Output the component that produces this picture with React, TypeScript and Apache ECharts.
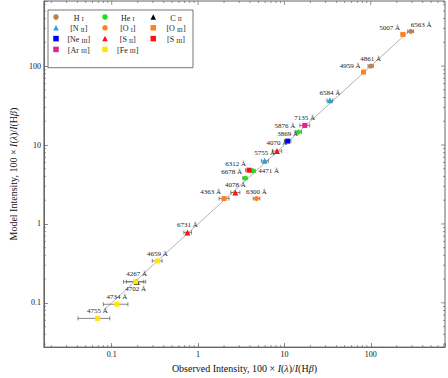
import React, { useEffect, useRef } from "react";
import * as echarts from "echarts";

const SERIF = "'Liberation Serif', 'Times New Roman', serif";

// ---- data ----
const ionNames = ["H I", "He I", "C II", "[N II]", "[O I]", "[O III]", "[Ne III]", "[S II]", "[S III]", "[Ar III]", "[Fe III]"];
const wavelengths = ["6563", "5007", "4861", "4959", "6584", "7135", "5876", "3869", "4070", "5755", "6312", "4471", "6678", "4363", "4078", "6300", "6731", "4659", "4267", "4702", "4734", "4755"];
const lineIon = ["H I", "[O III]", "H I", "[O III]", "[N II]", "[Ar III]", "He I", "[Ne III]", "[S II]", "[N II]", "[S III]", "He I", "He I", "[O III]", "[S II]", "[O I]", "[S II]", "[Fe III]", "C II", "[Fe III]", "[Fe III]", "[Fe III]"];
const observed = [290, 236, 100, 82.5, 33.6, 17.2, 14.5, 10.9, 8.2, 5.9, 3.9, 4.3, 3.5, 2.0, 2.7, 4.75, 0.755, 0.339, 0.195, 0.19, 0.115, 0.0685];
const model = [275, 252, 100, 84, 36.8, 17.7, 14.6, 11.2, 8.4, 6.3, 4.8, 4.7, 3.8, 2.1, 2.5, 2.1, 0.78, 0.34, 0.185, 0.185, 0.096, 0.0635];
const obsLow = [268, 225, 93, 79, 31.1, 15.1, 13.3, 10.0, 7.3, 5.4, 3.55, 4.0, 3.3, 1.75, 2.4, 4.35, 0.685, 0.295, 0.137, 0.148, 0.08, 0.0407];
const obsHigh = [313, 247, 107, 86.5, 36.3, 19.6, 15.8, 11.9, 9.3, 6.5, 4.3, 4.6, 3.7, 2.28, 3.05, 5.2, 0.838, 0.383, 0.248, 0.235, 0.154, 0.095];
const oneToOneLine = [0.08, 290];
const X_MIN = 0.0164;
const X_MAX = 724;
const Y_MIN = 0.0275;
const Y_MAX = 668;

// ---- styles ----
const ionColors = ["#c0804a", "#22dd22", "#000000", "#21a3e3", "#ff8020", "#ff8020", "#0000ff", "#ff1010", "#ff1010", "#e8208e", "#ffe600"];
const ionSymbols = ["circle", "circle", "triangle", "triangle", "circle", "rect", "rect", "triangle", "rect", "rect", "rect"];
const ionSizes = [5, 5, 6, 6, 5, 5, 5, 6, 5, 5, 5];
const labelPlacement = ["aboveRight", "aboveLeft", "above", "aboveLeft", "above", "above", "aboveLeft", "above", "above", "above", "aboveLeft", "right", "aboveLeft", "aboveLeft", "above", "above", "above", "above", "above", "below", "above", "above"];
const legendCols = [
  ["H I", "[N II]", "[Ne III]", "[Ar III]"],
  ["He I", "[O I]", "[S II]", "[Fe III]"],
  ["C II", "[O III]", "[S III]"],
];
const legendLeft = [53.25, 102.25, 150.5];
const AXIS_COLOR = "#666";

function labelFor(kind: string, s: number) {
  switch (kind) {
    case "aboveLeft":
      return { position: [s / 2 - 3, -0.5], align: "right", verticalAlign: "bottom" };
    case "aboveRight":
      return { position: [s / 2, -0.5], align: "left", verticalAlign: "bottom" };
    case "right":
      return { position: "right", distance: 3 };
    case "below":
      return { position: "bottom", distance: 1 };
    default:
      return { position: "top", distance: 1 };
  }
}

function legendFmt(name: string) {
  const m = name.match(/^(\[?)(\S+) ([IV]+)(\]?)$/);
  if (!m) return `{n|${name}}`;
  return `{n|${m[1]}${m[2]} }{s|${m[3]}}` + (m[4] ? `{n|${m[4]}}` : "");
}

function isPow10(v: number) {
  const l = Math.log10(v);
  return Math.abs(l - Math.round(l)) < 1e-6;
}

function buildOption() {
  const scatterSeries = ionNames.map((ion, k) => ({
    type: "scatter",
    name: ion,
    symbol: ionSymbols[k],
    symbolSize: ionSizes[k],
    itemStyle: { color: ionColors[k], opacity: 1 },
    z: 5,
    silent: true,
    label: { show: true, formatter: "{b}", fontFamily: SERIF, fontSize: 7, color: "#222" },
    data: wavelengths
      .map((w, i) => ({ w, i }))
      .filter((d) => lineIon[d.i] === ion)
      .map(({ w, i }) => ({
        name: `${w} Å`,
        value: [observed[i], model[i]],
        label: labelFor(labelPlacement[i], ionSizes[k]),
      })),
  }));

  // minor ticks (2..9 per decade) on all sides, plus mirrored major ticks on top/right
  const tickData: number[][] = [];
  for (let e = -3; e <= 3; e++) {
    for (let m = 1; m <= 9; m++) {
      const v = Number((m * Math.pow(10, e)).toPrecision(6));
      if (v > X_MIN && v < X_MAX) tickData.push([v, Y_MIN, 0, m === 1 ? 1 : 0]);
      if (v > Y_MIN && v < Y_MAX) tickData.push([X_MIN, v, 1, m === 1 ? 1 : 0]);
    }
  }

  const titleStyle = {
    fontFamily: SERIF,
    fontSize: 10,
    color: "#111",
    rich: { i: { fontFamily: SERIF, fontSize: 10, fontStyle: "italic", color: "#111" } },
  };

  return {
    animation: false,
    backgroundColor: "#fff",
    grid: { left: 36, right: 2, top: 1, bottom: 30, show: true, borderColor: AXIS_COLOR, borderWidth: 1, backgroundColor: "transparent" },
    xAxis: {
      type: "log",
      logBase: 10,
      min: X_MIN,
      max: X_MAX,
      name: "Observed Intensity, 100 × {i|I}({i|λ})/{i|I}(H{i|β})",
      nameLocation: "middle",
      nameGap: 14,
      nameTextStyle: titleStyle,
      axisLine: { show: true, lineStyle: { color: AXIS_COLOR, width: 1 } },
      axisTick: { show: true, inside: true, length: 4, lineStyle: { color: AXIS_COLOR, width: 0.8 } },
      axisLabel: { fontFamily: SERIF, fontSize: 8, color: "#111", margin: 3, formatter: (v: number) => (isPow10(v) ? String(v) : "") },
      splitLine: { show: false },
    },
    yAxis: {
      type: "log",
      logBase: 10,
      min: Y_MIN,
      max: Y_MAX,
      name: "Model Intensity, 100 × {i|I}({i|λ})/{i|I}(H{i|β})",
      nameLocation: "middle",
      nameGap: 21,
      nameTextStyle: titleStyle,
      axisLine: { show: true, lineStyle: { color: AXIS_COLOR, width: 1 } },
      axisTick: { show: true, inside: true, length: 4, lineStyle: { color: AXIS_COLOR, width: 0.8 } },
      axisLabel: { fontFamily: SERIF, fontSize: 8, color: "#111", margin: 3, formatter: (v: number) => (isPow10(v) ? String(v) : "") },
      splitLine: { show: false },
    },
    legend: legendCols.map((col, k) => ({
      data: col,
      orient: "vertical",
      left: legendLeft[k],
      top: 14,
      padding: 0,
      itemGap: 2.8,
      itemWidth: 5.5,
      itemHeight: 5.5,
      selectedMode: false,
      formatter: legendFmt,
      textStyle: {
        width: 30,
        fontFamily: SERIF,
        fontSize: 8,
        color: "#222",
        rich: {
          n: { fontFamily: SERIF, fontSize: 8, color: "#222", align: "center", lineHeight: 10, verticalAlign: "bottom" },
          s: { fontFamily: SERIF, fontSize: 6, color: "#222", align: "center", lineHeight: 8.6, verticalAlign: "bottom" },
        },
      },
      z: 10,
    })),
    graphic: [
      {
        type: "rect",
        shape: { x: 48, y: 10, width: 145, height: 57.7 },
        style: { fill: "#fff", stroke: "#555", lineWidth: 0.8 },
        z: 8,
        silent: true,
      },
    ],
    series: [
      {
        type: "line",
        name: "1:1",
        data: oneToOneLine.map((v) => [v, v]),
        symbol: "none",
        lineStyle: { color: "#a0a0a0", width: 0.8 },
        z: 1,
        silent: true,
      },
      {
        type: "custom",
        name: "ticks",
        data: tickData,
        encode: { x: 0, y: 1 },
        silent: true,
        clip: false,
        z: 3,
        renderItem: (params: any, api: any) => {
          const v0 = api.value(0);
          const v1 = api.value(1);
          const isY = api.value(2) === 1;
          const major = api.value(3) === 1;
          const len = major ? 4 : 2;
          const st = { stroke: AXIS_COLOR, lineWidth: 0.7 };
          if (!isY) {
            const pb = api.coord([v0, Y_MIN]);
            const pt = api.coord([v0, Y_MAX]);
            const kids: any[] = [{ type: "line", shape: { x1: pt[0], y1: pt[1], x2: pt[0], y2: pt[1] + len }, style: st }];
            if (!major) kids.push({ type: "line", shape: { x1: pb[0], y1: pb[1], x2: pb[0], y2: pb[1] - len }, style: st });
            return { type: "group", children: kids };
          } else {
            const pl = api.coord([X_MIN, v1]);
            const pr = api.coord([X_MAX, v1]);
            const kids: any[] = [{ type: "line", shape: { x1: pr[0], y1: pr[1], x2: pr[0] - len, y2: pr[1] }, style: st }];
            if (!major) kids.push({ type: "line", shape: { x1: pl[0], y1: pl[1], x2: pl[0] + len, y2: pl[1] }, style: st });
            return { type: "group", children: kids };
          }
        },
      },
      {
        type: "custom",
        name: "errorbars",
        data: observed.map((v, i) => [v, model[i], obsLow[i], obsHigh[i]]),
        encode: { x: [0, 2, 3], y: 1 },
        silent: true,
        z: 4,
        renderItem: (params: any, api: any) => {
          const yv = api.value(1);
          const lo = api.coord([api.value(2), yv]);
          const hi = api.coord([api.value(3), yv]);
          const st = { stroke: "#555", lineWidth: 0.7 };
          const c = 2;
          return {
            type: "group",
            children: [
              { type: "line", shape: { x1: lo[0], y1: lo[1], x2: hi[0], y2: hi[1] }, style: st },
              { type: "line", shape: { x1: lo[0], y1: lo[1] - c, x2: lo[0], y2: lo[1] + c }, style: st },
              { type: "line", shape: { x1: hi[0], y1: hi[1] - c, x2: hi[0], y2: hi[1] + c }, style: st },
            ],
          };
        },
      },
      ...scatterSeries,
    ],
  };
}

export default function App() {
  const ref = useRef<HTMLDivElement>(null);
  useEffect(() => {
    if (!ref.current) return;
    const chart = echarts.init(ref.current, null, { renderer: "svg" });
    chart.setOption(buildOption() as any);
    return () => chart.dispose();
  }, []);
  return (
    <div
      ref={ref}
      style={{ position: "fixed", left: 0, top: 0, width: 448, height: 378, background: "#fff" }}
    />
  );
}
